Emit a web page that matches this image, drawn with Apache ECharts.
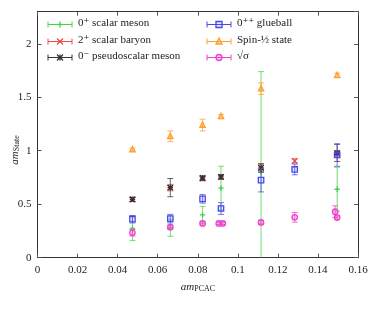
<!DOCTYPE html>
<html><head><meta charset="utf-8">
<script src="https://cdn.jsdelivr.net/npm/echarts@6/dist/echarts.min.js"></script>
<style>html,body{margin:0;padding:0;background:#fff}#c{width:374px;height:311px}</style>
</head><body><div id="c"></div>
<script>
// ---- data ----
const scalarMesonX = [0.0474, 0.0663, 0.0824, 0.0916, 0.1116, 0.1496];
const scalarMesonY = [0.275, 0.28, 0.40, 0.65, 0.80, 0.64];
const scalarMesonE = [0.115, 0.08, 0.08, 0.205, 0.94, 0.205];

const baryonX = [0.0474, 0.0663, 0.0824, 0.0916, 0.1116, 0.1284, 0.1496];
const baryonY = [0.545, 0.655, 0.74, 0.755, 0.84, 0.905, 0.97];
const baryonE = [0.02, 0.03, 0.02, 0.02, 0.03, 0.02, 0.03];

const pseudoX = [0.0474, 0.0663, 0.0824, 0.0916, 0.1116, 0.1496];
const pseudoY = [0.545, 0.655, 0.745, 0.755, 0.84, 0.98];
const pseudoE = [0.02, 0.085, 0.02, 0.02, 0.04, 0.08];

const glueballX = [0.0474, 0.0663, 0.0824, 0.0916, 0.1116, 0.1284, 0.1496];
const glueballY = [0.36, 0.365, 0.55, 0.46, 0.725, 0.825, 0.96];
const glueballE = [0.035, 0.04, 0.04, 0.055, 0.11, 0.05, 0.105];

const spinHalfX = [0.0474, 0.0663, 0.0824, 0.0916, 0.1116, 0.1496];
const spinHalfY = [1.01, 1.135, 1.24, 1.32, 1.58, 1.705];
const spinHalfE = [0.015, 0.05, 0.055, 0.02, 0.055, 0.02];

const sigmaX = [0.0474, 0.0663, 0.0824, 0.0905, 0.0925, 0.1116, 0.1284, 0.1486, 0.1496];
const sigmaY = [0.233, 0.285, 0.32, 0.32, 0.32, 0.33, 0.378, 0.43, 0.375];
const sigmaE = [0.03, 0.02, 0.015, 0.01, 0.01, 0.015, 0.045, 0.055, 0.015];

const xTicks = [0, 0.02, 0.04, 0.06, 0.08, 0.1, 0.12, 0.14, 0.16];
const yTicks = [0, 0.5, 1, 1.5, 2];

const seriesDefs = [
  {name: '0⁺ scalar meson', xs: scalarMesonX, ys: scalarMesonY, es: scalarMesonE, color: '#44d444', marker: 'plus'},
  {name: '2⁺ scalar baryon', xs: baryonX, ys: baryonY, es: baryonE, color: '#f04848', marker: 'cross'},
  {name: '0⁻ pseudoscalar meson', xs: pseudoX, ys: pseudoY, es: pseudoE, color: '#333333', marker: 'star'},
  {name: '0⁺⁺ glueball', xs: glueballX, ys: glueballY, es: glueballE, color: '#4848e8', marker: 'square'},
  {name: 'Spin-½ state', xs: spinHalfX, ys: spinHalfY, es: spinHalfE, color: '#ffa030', marker: 'triangle'},
  {name: '√σ', xs: sigmaX, ys: sigmaY, es: sigmaE, color: '#ee40cc', marker: 'circle'}
];

const FONT = '"Liberation Serif", "DejaVu Serif", serif';

function markerShapes(type, cx, cy, color, r) {
  const st = {stroke: color, lineWidth: 1.3, fill: null};
  const L = (x1, y1, x2, y2) => ({type: 'line', shape: {x1, y1, x2, y2}, style: st});
  switch (type) {
    case 'plus': return [L(cx - r, cy, cx + r, cy), L(cx, cy - r, cx, cy + r)];
    case 'cross': return [L(cx - r, cy - r, cx + r, cy + r), L(cx - r, cy + r, cx + r, cy - r)];
    case 'star': return [L(cx - r, cy, cx + r, cy), L(cx, cy - r, cx, cy + r),
                         L(cx - r, cy - r, cx + r, cy + r), L(cx - r, cy + r, cx + r, cy - r)];
    case 'square': return [{type: 'rect', shape: {x: cx - r, y: cy - r, width: 2 * r, height: 2 * r},
                            style: {stroke: color, lineWidth: 1.3, fill: 'rgba(72,72,232,0.12)'}}];
    case 'triangle': return [{type: 'polygon', shape: {points: [[cx, cy - r - 0.5], [cx - r, cy + r - 0.5], [cx + r, cy + r - 0.5]]},
                              style: {stroke: color, lineWidth: 1.3, fill: 'rgba(255,160,48,0.45)'}}];
    case 'circle': return [{type: 'circle', shape: {cx, cy, r: r}, style: {stroke: color, lineWidth: 1.3, fill: 'rgba(238,64,204,0.25)'}}];
  }
  return [];
}

function makeRender(def) {
  return function (params, api) {
    const x = api.value(0), y = api.value(1), e = api.value(2);
    const c = api.coord([x, y]);
    const lo = api.coord([x, y - e]);
    const hi = api.coord([x, y + e]);
    const st = {stroke: def.color, lineWidth: 1, opacity: 0.75};
    const cap = 3;
    const children = [
      {type: 'line', shape: {x1: c[0], y1: lo[1], x2: c[0], y2: hi[1]}, style: st},
      {type: 'line', shape: {x1: c[0] - cap, y1: lo[1], x2: c[0] + cap, y2: lo[1]}, style: st},
      {type: 'line', shape: {x1: c[0] - cap, y1: hi[1], x2: c[0] + cap, y2: hi[1]}, style: st}
    ].concat(markerShapes(def.marker, c[0], c[1], def.color, 2.7));
    return {type: 'group', children};
  };
}

const series = seriesDefs.map(def => ({
  type: 'custom',
  name: def.name,
  clip: true,
  renderItem: makeRender(def),
  encode: {x: 0, y: 1},
  data: def.xs.map((x, i) => [x, def.ys[i], def.es[i]]),
  z: 2
}));

// legend drawn as graphics (error-bar style keys)
const legendPos = [[48, 24.5], [48, 41.5], [48, 57.5], [207, 24.5], [207, 41.5], [207, 57.5]];
const legendGraphics = [];
seriesDefs.forEach((def, i) => {
  const [x0, y0] = legendPos[i];
  const x1 = x0 + 24, xm = x0 + 12;
  const st = {stroke: def.color, lineWidth: 1};
  const children = [
    {type: 'line', shape: {x1: x0, y1: y0, x2: x1, y2: y0}, style: st},
    {type: 'line', shape: {x1: x0, y1: y0 - 3, x2: x0, y2: y0 + 3}, style: st},
    {type: 'line', shape: {x1: x1, y1: y0 - 3, x2: x1, y2: y0 + 3}, style: st}
  ].concat(markerShapes(def.marker, xm, y0, def.color, 3));
  legendGraphics.push({type: 'group', children, z: 10});
  legendGraphics.push({type: 'text', left: x1 + 6, top: y0 - 7, z: 10,
    style: {text: def.name, font: '11px ' + FONT, fill: '#222'}});
});

legendGraphics.push({type: 'text', rotation: Math.PI / 2, x: 15, y: 150, z: 10,
  style: {text: '{i|am}{s|State}', align: 'center', verticalAlign: 'middle',
    rich: {i: {fontFamily: FONT, fontStyle: 'italic', fontSize: 11, fill: '#222'},
           s: {fontFamily: FONT, fontSize: 8, fill: '#222', verticalAlign: 'bottom', padding: [4, 0, 0, 0]}}}});
legendGraphics.push({type: 'text', x: 198, y: 287, z: 10,
  style: {text: '{i|am}{s|PCAC}', align: 'center', verticalAlign: 'middle',
    rich: {i: {fontFamily: FONT, fontStyle: 'italic', fontSize: 11, fill: '#222'},
           s: {fontFamily: FONT, fontSize: 8, fill: '#222', verticalAlign: 'bottom', padding: [4, 0, 0, 0]}}}});

const axisCommon = {
  axisLine: {show: true, onZero: false, lineStyle: {color: '#333', width: 1}},
  axisTick: {show: true, inside: true, length: 4, lineStyle: {color: '#555'}},
  splitLine: {show: false}
};

const chart = echarts.init(document.getElementById('c'), null, {renderer: 'canvas'});
chart.setOption({
  animation: false,
  backgroundColor: '#fff',
  grid: {left: 37.5, right: 16, top: 11.7, bottom: 53.3},
  xAxis: [
    Object.assign({type: 'value', min: xTicks[0], max: xTicks[xTicks.length - 1], interval: xTicks[1] - xTicks[0], position: 'bottom',
      axisLabel: {margin: 7, color: '#222', fontFamily: FONT, fontSize: 11,
        formatter: v => String(+v.toFixed(2))}}, axisCommon),
    Object.assign({type: 'value', min: xTicks[0], max: xTicks[xTicks.length - 1], interval: xTicks[1] - xTicks[0], position: 'top',
      axisLabel: {show: false}}, axisCommon)
  ],
  yAxis: [
    Object.assign({type: 'value', min: yTicks[0], max: 2.3, interval: yTicks[1] - yTicks[0], position: 'left',
      axisLabel: {margin: 6, color: '#222', fontFamily: FONT, fontSize: 11, showMaxLabel: false,
        formatter: v => String(+v.toFixed(2))}}, axisCommon),
    Object.assign({type: 'value', min: yTicks[0], max: 2.3, interval: yTicks[1] - yTicks[0], position: 'right',
      axisLabel: {show: false}}, axisCommon)
  ],
  graphic: legendGraphics,
  series
});
</script></body></html>
